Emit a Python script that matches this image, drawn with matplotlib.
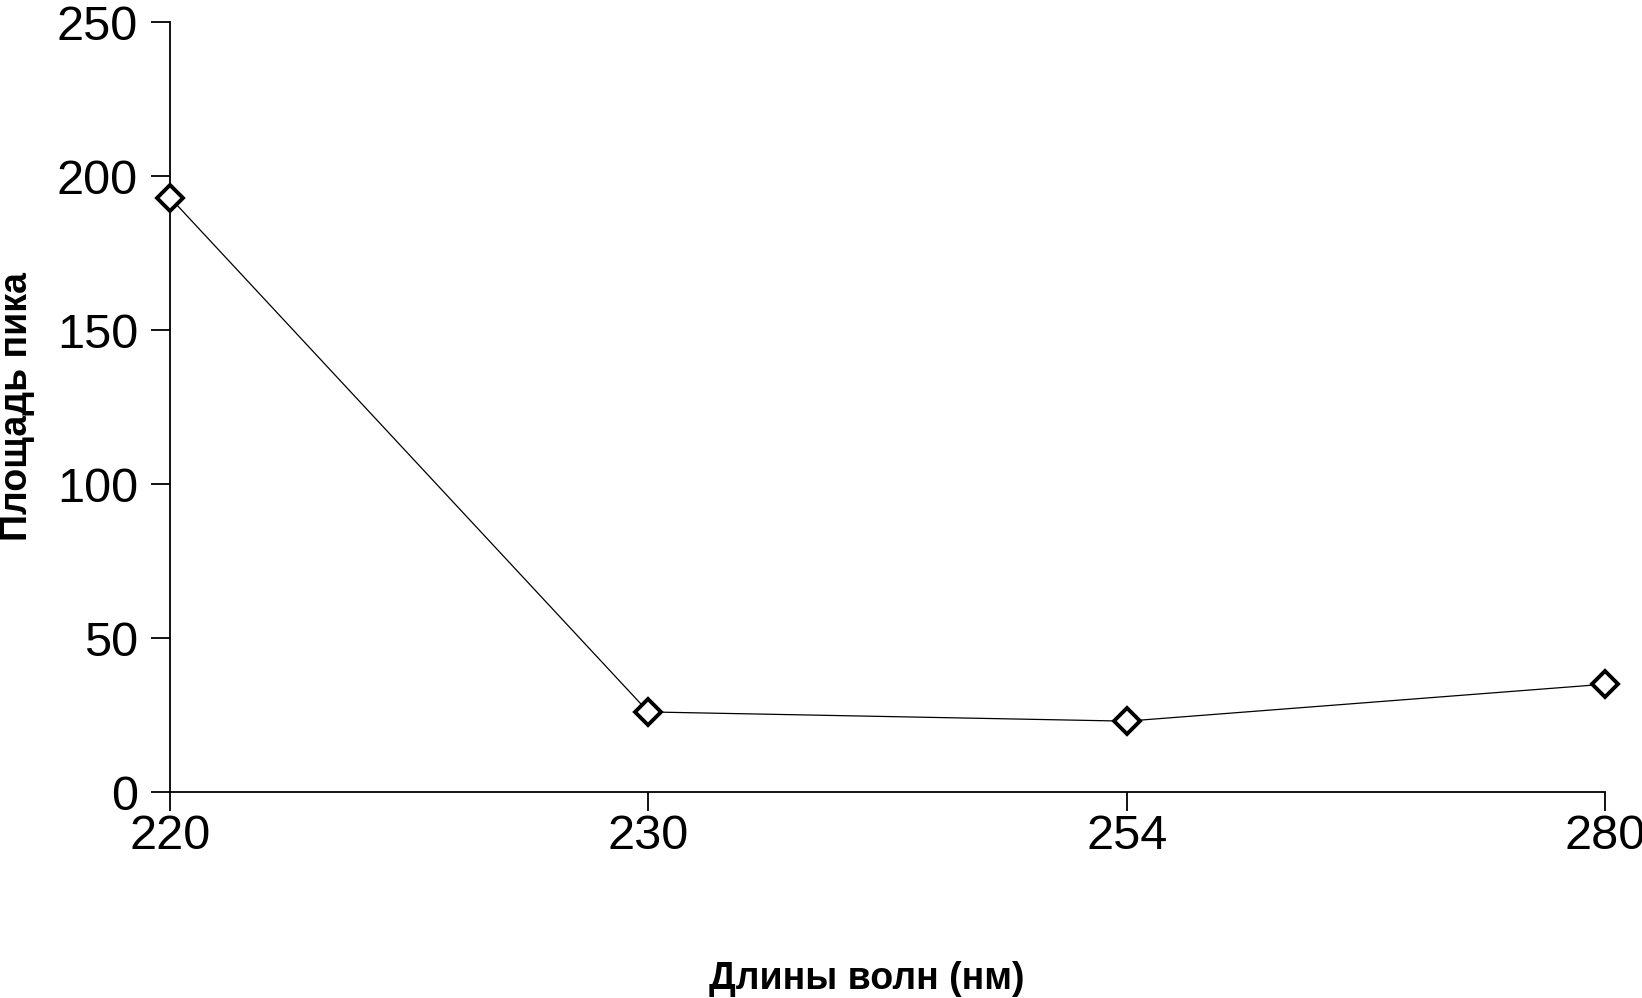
"""Площадь пика в зависимости от длины волны."""

import matplotlib.pyplot as plt

plt.rcParams["font.family"] = ["Liberation Sans", "DejaVu Sans"]

wavelengths = ["220", "230", "254", "280"]
peak_area = [193, 26, 23, 35]
y_ticks = [0, 50, 100, 150, 200, 250]

W, H = 1642, 998
fig = plt.figure(figsize=(W / 100, H / 100), dpi=100)
ax = fig.add_axes([170 / W, 1 - 792 / H, (1605 - 170) / W, (792 - 22) / H])

positions = list(range(len(wavelengths)))
ax.plot(positions, peak_area, color="black", linewidth=0.9, marker="D",
        markersize=13, markerfacecolor="white", markeredgecolor="black",
        markeredgewidth=2.8, clip_on=False, zorder=3)

ax.set_xlim(0, len(wavelengths) - 1)
ax.set_ylim(0, 250)
ax.set_xticks(positions)
ax.set_xticklabels(wavelengths)
ax.set_yticks(y_ticks)

ax.spines[["top", "right"]].set_visible(False)
for side in ("left", "bottom"):
    ax.spines[side].set_linewidth(1.3)
ax.tick_params(axis="both", direction="out", length=14, width=1.3,
               labelsize=35, colors="black")
ax.tick_params(axis="x", pad=2)
ax.tick_params(axis="y", pad=9)

fig.text(867 / W, 1 - 979 / H, "Длины волн (нм)", ha="center", va="center",
         fontsize=27, fontweight="bold")
fig.text(17 / W, 1 - 407 / H, "Площадь пика", ha="center", va="center",
         rotation=90, fontsize=27, fontweight="bold")

fig.savefig("out.png", dpi=100, facecolor="white")
plt.close(fig)
